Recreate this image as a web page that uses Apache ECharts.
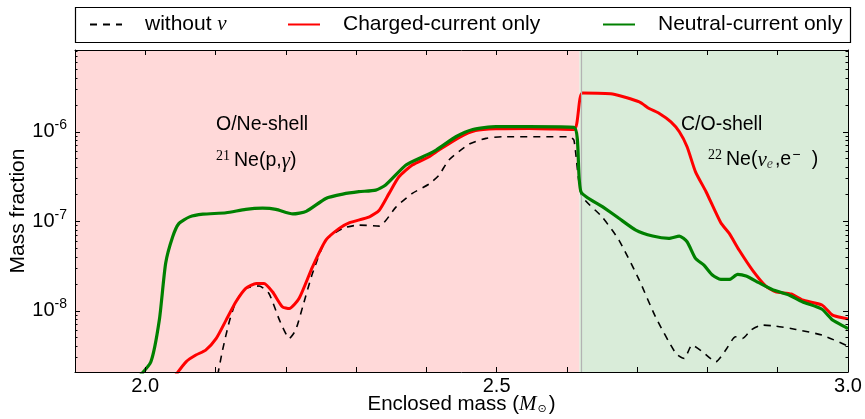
<!DOCTYPE html>
<html><head><meta charset="utf-8">
<script src="https://cdn.jsdelivr.net/npm/echarts@6/dist/echarts.min.js"></script>
<style>html,body{margin:0;padding:0;background:#fff}#c{width:865px;height:419px}</style>
</head><body><div id="c"></div>
<script>
// ---- data ----
const seriesNames = ['without ν', 'Charged-current only', 'Neutral-current only'];

const massNoNu = [2.103, 2.110, 2.1195, 2.129, 2.143, 2.162, 2.176, 2.191, 2.205, 2.214, 2.224, 2.238, 2.257, 2.281, 2.304, 2.333, 2.357, 2.380, 2.404, 2.418, 2.432, 2.461, 2.485, 2.508, 2.603, 2.610, 2.621, 2.650, 2.674, 2.703, 2.726, 2.755, 2.767, 2.778, 2.793, 2.812, 2.826, 2.840, 2.850, 2.862, 2.878, 2.897, 2.926, 2.963, 3.000];
const fracNoNu = [1.9e-9, 3.64e-9, 7.53e-9, 1.26e-8, 1.78e-8, 1.89e-8, 1.56e-8, 7.87e-9, 4.92e-9, 6.09e-9, 1.11e-8, 2.62e-8, 6.17e-8, 8.33e-8, 9.07e-8, 8.84e-8, 1.45e-7, 2.05e-7, 2.61e-7, 3.28e-7, 4.83e-7, 7.29e-7, 8.44e-7, 8.80e-7, 8.80e-7, 8.07e-7, 1.95e-7, 1.12e-7, 6.17e-8, 2.20e-8, 8.57e-9, 3.34e-9, 2.94e-9, 4.14e-9, 3.48e-9, 2.69e-9, 3.64e-9, 5.12e-9, 4.92e-9, 6.09e-9, 6.92e-9, 6.75e-9, 6.19e-9, 5.35e-9, 4.03e-9];

const massCC = [2.043, 2.058, 2.072, 2.086, 2.101, 2.115, 2.129, 2.143, 2.158, 2.169, 2.181, 2.195, 2.205, 2.219, 2.238, 2.257, 2.276, 2.290, 2.319, 2.333, 2.347, 2.361, 2.380, 2.404, 2.418, 2.447, 2.470, 2.499, 2.546, 2.610, 2.622, 2.665, 2.703, 2.717, 2.731, 2.748, 2.760, 2.771, 2.783, 2.798, 2.819, 2.831, 2.845, 2.864, 2.883, 2.897, 2.919, 2.935, 2.963, 2.978, 2.997, 3.000];
const fracCC = [1.9e-9, 2.69e-9, 3.20e-9, 3.64e-9, 4.92e-9, 7.87e-9, 1.26e-8, 1.78e-8, 2.02e-8, 2.02e-8, 1.63e-8, 1.11e-8, 1.06e-8, 1.38e-8, 3.10e-8, 6.17e-8, 8.33e-8, 9.62e-8, 1.12e-7, 1.33e-7, 2.05e-7, 3.14e-7, 4.25e-7, 5.26e-7, 6.25e-7, 8.66e-7, 1.03e-6, 1.08e-6, 1.09e-6, 1.06e-6, 2.71e-6, 2.64e-6, 2.16e-6, 1.82e-6, 1.61e-6, 1.29e-6, 1.00e-6, 6.80e-7, 3.57e-7, 2.14e-7, 9.62e-8, 7.32e-8, 4.77e-8, 2.85e-8, 1.89e-8, 1.63e-8, 1.54e-8, 1.32e-8, 1.16e-8, 8.95e-9, 8.22e-9, 8.1e-9];

const massNC = [1.990, 2.008, 2.020, 2.029, 2.039, 2.048, 2.063, 2.082, 2.115, 2.143, 2.167, 2.186, 2.210, 2.229, 2.257, 2.281, 2.304, 2.328, 2.342, 2.371, 2.395, 2.414, 2.442, 2.466, 2.499, 2.546, 2.610, 2.620, 2.651, 2.674, 2.698, 2.722, 2.745, 2.760, 2.771, 2.783, 2.795, 2.807, 2.819, 2.831, 2.843, 2.855, 2.873, 2.892, 2.916, 2.935, 2.963, 2.978, 2.997, 3.000];
const fracNC = [1.8e-9, 2.69e-9, 7.87e-9, 3.39e-8, 6.71e-8, 9.48e-8, 1.12e-7, 1.20e-7, 1.245e-7, 1.36e-7, 1.40e-7, 1.36e-7, 1.21e-7, 1.29e-7, 1.80e-7, 2.01e-7, 2.14e-7, 2.23e-7, 2.54e-7, 4.25e-7, 5.26e-7, 6.25e-7, 8.80e-7, 1.06e-6, 1.14e-6, 1.14e-6, 1.12e-6, 2.14e-7, 1.45e-7, 1.08e-7, 7.97e-8, 6.84e-8, 6.44e-8, 6.84e-8, 5.90e-8, 3.85e-8, 3.24e-8, 2.51e-8, 2.24e-8, 2.24e-8, 2.55e-8, 2.44e-8, 2.06e-8, 1.73e-8, 1.50e-8, 1.26e-8, 1.04e-8, 7.87e-9, 6.53e-9, 6.3e-9];

const xMin = 1.9, xMax = 3.0, xTickStep = 0.1;
const xLabelValues = [2.0, 2.5, 3.0];
const yMin = 2.07e-9, yMax = 8.2e-6;
const yMajorExponents = [-8, -7, -6];
const yMinorMultipliers = [2, 3, 4, 5, 6, 7, 8, 9];
const yMinorDecades = [-9, -8, -7, -6];
const shellBoundary = 2.618;

// ---- build ----
const SANS = '"Liberation Sans", Arial, sans-serif';
const SERIF = '"Liberation Serif", "DejaVu Serif", serif';
const pair = (xs, ys) => xs.map((x, i) => [x, ys[i]]);

const lgMin = Math.log10(yMin), lgMax = Math.log10(yMax);
const minorLog = [];
yMinorDecades.forEach(d => yMinorMultipliers.forEach(k => {
  const v = Math.log10(k) + d;
  if (v > lgMin && v < lgMax) minorLog.push(v);
}));

const xLabelFmt = v => {
  const hit = xLabelValues.find(t => Math.abs(t - v) < 1e-6);
  return hit === undefined ? '' : hit.toFixed(1);
};
const yLabelFmt = v => {
  const e = Math.log10(v), r = Math.round(e);
  if (Math.abs(e - r) > 1e-6 || yMajorExponents.indexOf(r) < 0) return '';
  return '{b|10}{sup|' + r + '}';
};

const tickStyle = {color: '#000', width: 1};
const lineAxis = {show: true, onZero: false, lineStyle: {color: '#000', width: 1}};

const chart = echarts.init(document.getElementById('c'), null, {renderer: 'canvas'});
chart.setOption({
  animation: false,
  backgroundColor: '#fff',
  grid: {left: 75, right: 17, top: 50, bottom: 47, containLabel: false, outerBoundsMode: 'none'},
  xAxis: [
    {type: 'value', position: 'bottom', min: xMin, max: xMax, interval: xTickStep, z: 20,
     axisLine: lineAxis, splitLine: {show: false},
     axisTick: {inside: true, length: 5, lineStyle: tickStyle},
     axisLabel: {formatter: xLabelFmt, fontSize: 20, fontFamily: SANS, color: '#000', margin: 4, showMinLabel: true, showMaxLabel: true, hideOverlap: false},
     name: '{b|Enclosed mass (}{m|M}{sub|⊙}{b|)}', nameLocation: 'middle', nameGap: 21, nameMoveOverlap: false,
     nameTextStyle: {color: '#000', fontSize: 20, fontFamily: SANS,
       rich: {b: {fontSize: 20.5, fontFamily: SANS, color: '#000', lineHeight: 22, verticalAlign: 'middle'},
              m: {fontSize: 21, fontFamily: SERIF, fontStyle: 'italic', color: '#000', lineHeight: 22, verticalAlign: 'middle'},
              sub: {fontSize: 11, fontFamily: '"DejaVu Sans", sans-serif', color: '#000', lineHeight: 12, padding: [10, 2, 0, 1], verticalAlign: 'middle'}}}},
    {type: 'value', position: 'top', min: xMin, max: xMax, interval: xTickStep, z: 20,
     axisLine: lineAxis, splitLine: {show: false},
     axisTick: {inside: true, length: 5, lineStyle: tickStyle}, axisLabel: {show: false}}
  ],
  yAxis: [
    {type: 'log', logBase: 10, position: 'left', min: yMin, max: yMax, z: 20,
     axisLine: lineAxis, splitLine: {show: false}, minorTick: {show: false},
     axisTick: {inside: true, length: 5, lineStyle: tickStyle},
     axisLabel: {formatter: yLabelFmt, color: '#000', margin: 8, fontFamily: SANS, fontSize: 20,
       rich: {b: {fontSize: 20, fontFamily: SANS, color: '#000', lineHeight: 20, verticalAlign: 'middle'},
              sup: {fontSize: 14, fontFamily: SANS, color: '#000', lineHeight: 14, padding: [0, 0, 13, 0], verticalAlign: 'middle'}}},
     name: 'Mass fraction', nameLocation: 'middle', nameGap: 46, nameMoveOverlap: false,
     nameTextStyle: {color: '#000', fontSize: 21, fontFamily: SANS}},
    {type: 'value', position: 'left', min: lgMin, max: lgMax, z: 20,
     axisLine: {show: false}, splitLine: {show: false}, axisLabel: {show: false},
     axisTick: {inside: true, length: 2.5, lineStyle: tickStyle, customValues: minorLog}},
    {type: 'log', logBase: 10, position: 'right', min: yMin, max: yMax, z: 20,
     axisLine: lineAxis, splitLine: {show: false}, axisLabel: {show: false},
     axisTick: {inside: true, length: 5, lineStyle: tickStyle}},
    {type: 'value', position: 'right', min: lgMin, max: lgMax, z: 20,
     axisLine: {show: false}, splitLine: {show: false}, axisLabel: {show: false},
     axisTick: {inside: true, length: 2.5, lineStyle: tickStyle, customValues: minorLog}}
  ],
  legend: seriesNames.map((n, i) => ({
    data: [n], left: [89, 287, 602][i], top: 14, padding: 0, itemGap: 0,
    itemWidth: 32, itemHeight: 14, selectedMode: false,
    itemStyle: {opacity: 0},
    formatter: s => s.replace('ν', '{nu|ν}'),
    textStyle: {fontSize: 21, fontFamily: SANS, color: '#000', padding: [0, 0, 0, 18],
      rich: {nu: {fontSize: 21, fontFamily: SERIF, fontStyle: 'italic', color: '#000'}}}
  })),
  graphic: [
    {type: 'rect', z: 0, shape: {x: 75.5, y: 7.5, width: 775, height: 35},
     style: {fill: 'none', stroke: '#000', lineWidth: 1.2}},
    {type: 'text', x: 216, y: 125, z: 10,
     style: {text: 'O/Ne-shell', fontSize: 19.5, fontFamily: SANS, fill: '#000', align: 'left', verticalAlign: 'middle'}},
    {type: 'text', x: 216, y: 161, z: 10,
     style: {text: '{sup|21}{b|Ne(p,}{it|γ}{b|)}', align: 'left', verticalAlign: 'middle', fill: '#000',
       rich: {b: {fontSize: 19.5, fontFamily: SANS, fill: '#000', lineHeight: 22, verticalAlign: 'middle'},
              sup: {fontSize: 14, fontFamily: SERIF, fill: '#000', lineHeight: 14, padding: [0, 4, 9, 0], verticalAlign: 'middle'},
              it: {fontSize: 21, fontFamily: SERIF, fontStyle: 'italic', fill: '#000', lineHeight: 22, verticalAlign: 'middle'}}}},
    {type: 'text', x: 681, y: 125, z: 10,
     style: {text: 'C/O-shell', fontSize: 19.5, fontFamily: SANS, fill: '#000', align: 'left', verticalAlign: 'middle'}},
    {type: 'text', x: 708, y: 160, z: 10,
     style: {text: '{sup|22}{b|Ne(}{it|ν}{sub|e}{b|,e}{supm|−}{b| )}', align: 'left', verticalAlign: 'middle', fill: '#000',
       rich: {b: {fontSize: 19.5, fontFamily: SANS, fill: '#000', lineHeight: 22, verticalAlign: 'middle'},
              sup: {fontSize: 14, fontFamily: SERIF, fill: '#000', lineHeight: 14, padding: [0, 4, 9, 0], verticalAlign: 'middle'},
              supm: {fontSize: 14, fontFamily: SANS, fill: '#000', lineHeight: 14, padding: [0, 6, 9, 1], verticalAlign: 'middle'},
              it: {fontSize: 21, fontFamily: SERIF, fontStyle: 'italic', fill: '#000', lineHeight: 22, verticalAlign: 'middle'},
              sub: {fontSize: 14, fontFamily: SERIF, fontStyle: 'italic', fill: '#444', lineHeight: 14, padding: [9, 2, 0, 0], verticalAlign: 'middle'}}}}
  ],
  series: [
    {type: 'line', name: '__regions', data: [], z: 1, silent: true, legendHoverLink: false,
     markArea: {silent: true, itemStyle: {opacity: 1},
       data: [[{xAxis: xMin, itemStyle: {color: '#ffd9d9'}}, {xAxis: shellBoundary}],
              [{xAxis: shellBoundary, itemStyle: {color: '#d9ecd9'}}, {xAxis: xMax}]]},
     markLine: {silent: true, symbol: 'none', label: {show: false},
       lineStyle: {color: '#b3b3b3', width: 1.2, type: 'solid'}, data: [{xAxis: shellBoundary}]}},
    {type: 'line', name: seriesNames[0], data: pair(massNoNu, fracNoNu), z: 3,
     showSymbol: false, symbol: 'none', smooth: 0.2, clip: true,
     lineStyle: {color: '#000', width: 1.6, type: [7, 6]}, itemStyle: {color: '#000'}},
    {type: 'line', name: seriesNames[1], data: pair(massCC, fracCC), z: 4,
     showSymbol: false, symbol: 'none', smooth: 0.2, clip: true,
     lineStyle: {color: '#ff0000', width: 3}, itemStyle: {color: '#ff0000'}},
    {type: 'line', name: seriesNames[2], data: pair(massNC, fracNC), z: 5,
     showSymbol: false, symbol: 'none', smooth: 0.2, clip: true,
     lineStyle: {color: '#008000', width: 3.2}, itemStyle: {color: '#008000'}}
  ]
});
</script></body></html>
